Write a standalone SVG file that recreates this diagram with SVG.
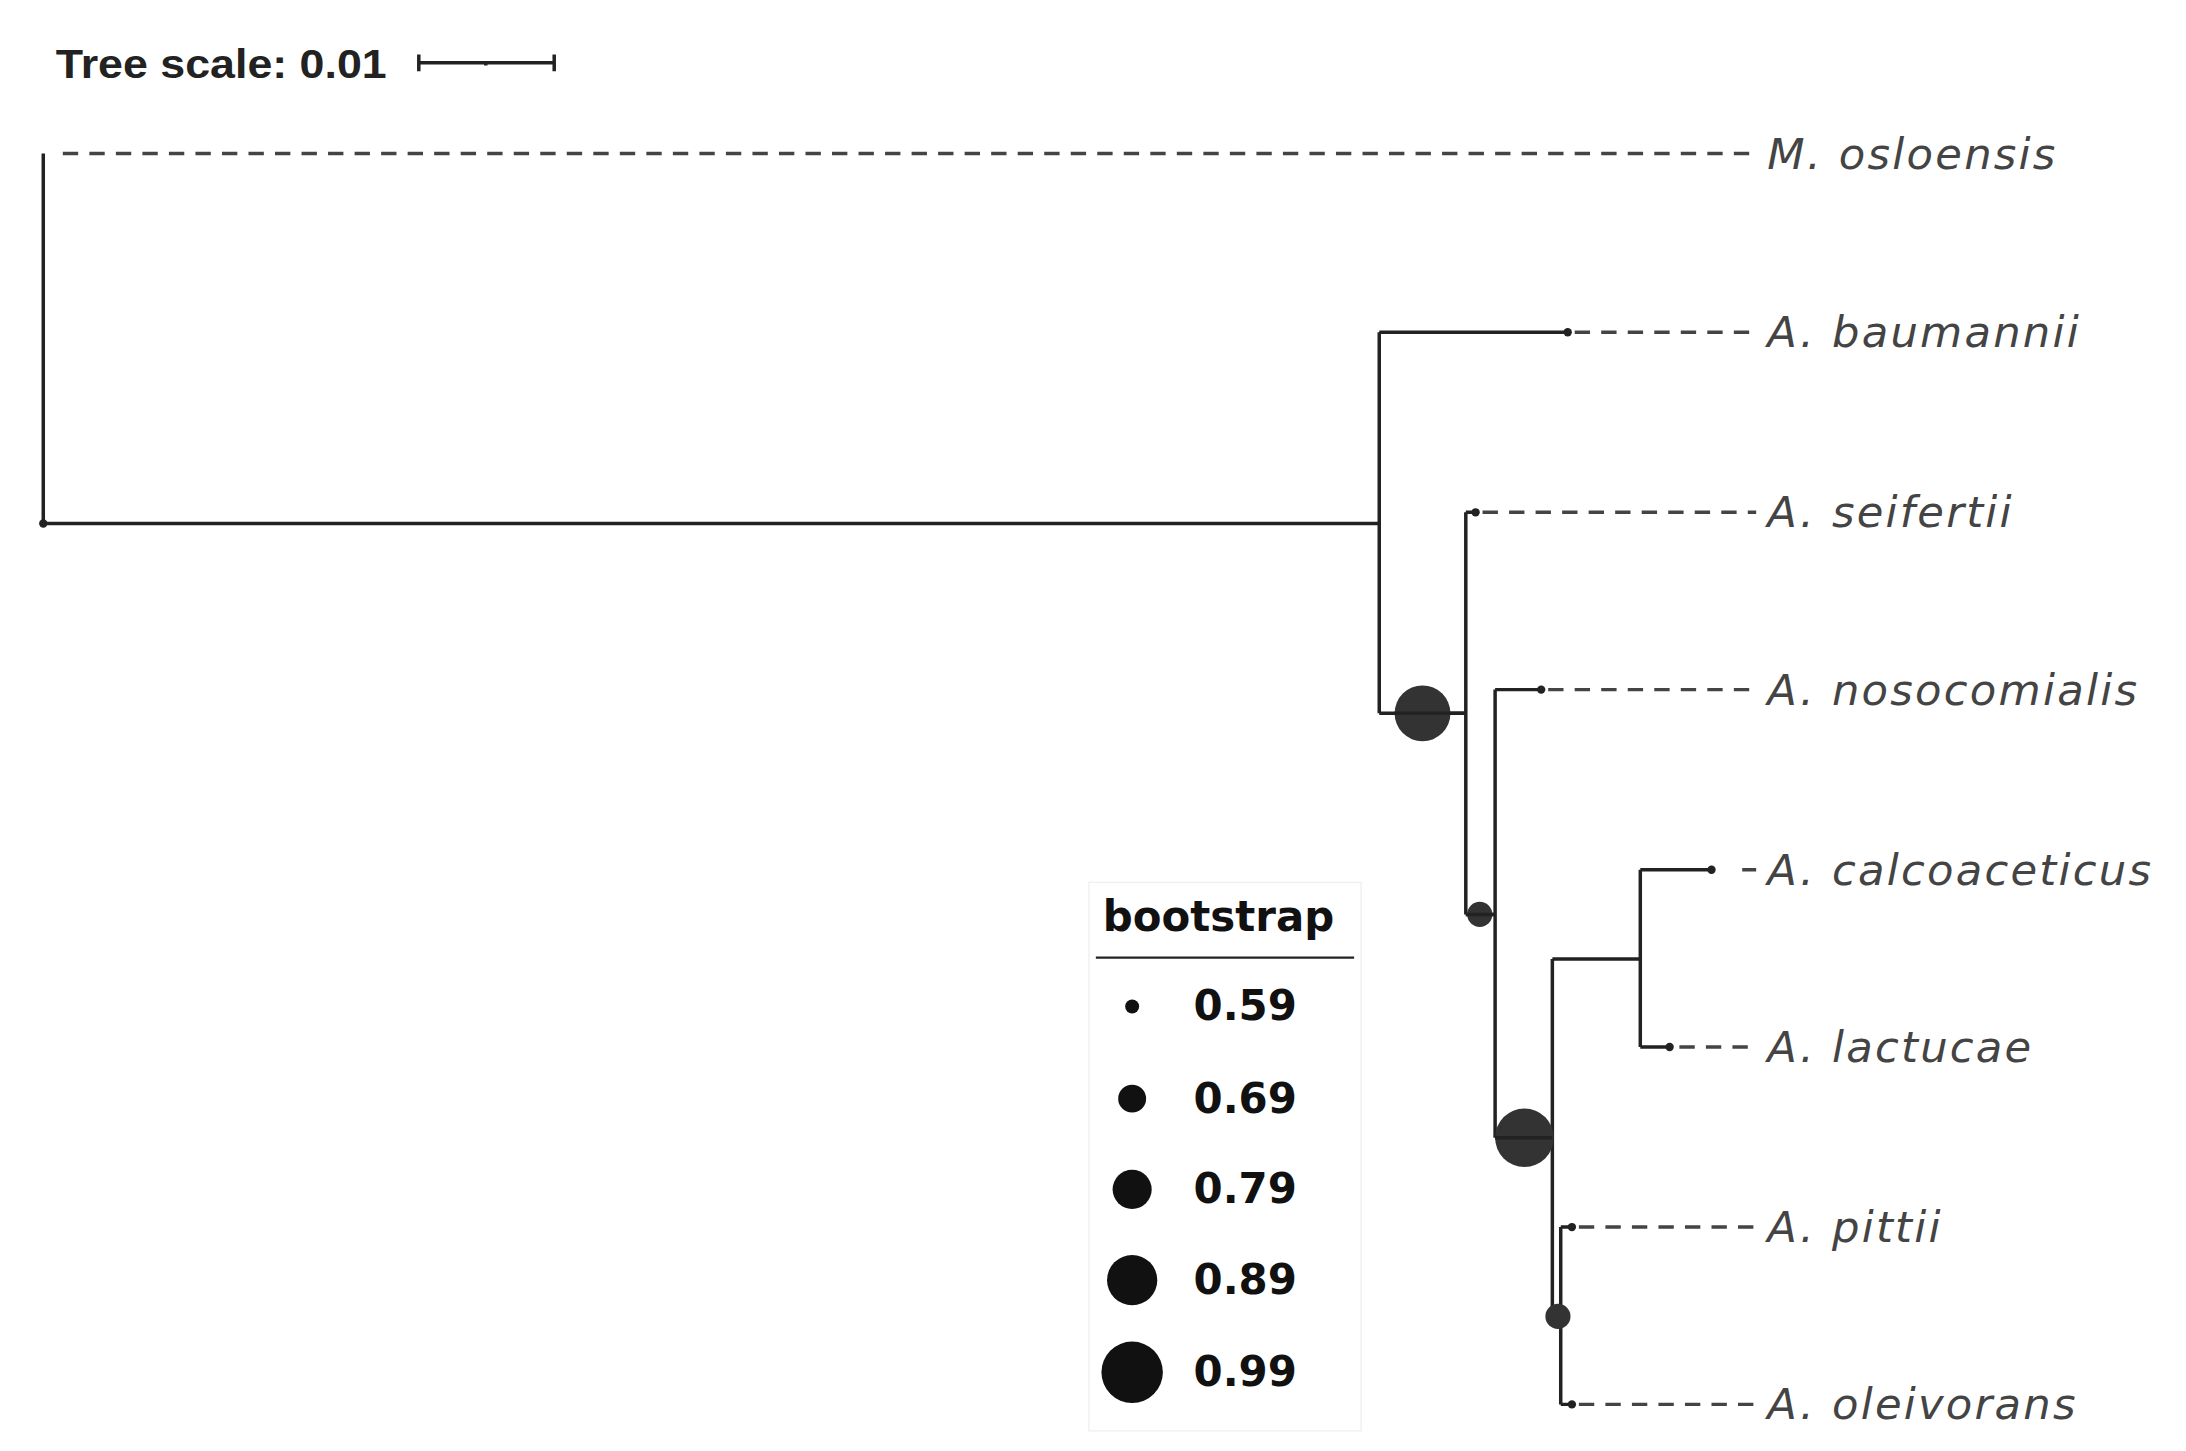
<svg xmlns="http://www.w3.org/2000/svg" width="2186" height="1451" viewBox="0 0 2186 1451">
<style>
.br{stroke:#222;stroke-width:2.5;fill:none}
.ds{stroke:#444;stroke-width:2.5;stroke-dasharray:11,8;fill:none}
.dot{fill:#222}
.bs{fill:#333}
.lab{font-family:"DejaVu Sans",sans-serif;font-style:italic;font-size:31px;letter-spacing:1.6px;fill:#444;dominant-baseline:central}
.lg{font-family:"DejaVu Sans",sans-serif;font-size:30px;font-weight:bold;fill:#111}
</style>
<rect width="2186" height="1451" fill="#fff"/>
<g transform="scale(1.396)">
<g id="scale">
<text x="40" y="56" font-family="Liberation Sans,Arial,sans-serif" font-weight="bold" font-size="29" fill="#222" textLength="237" lengthAdjust="spacingAndGlyphs">Tree scale: 0.01</text>
<path class="br" d="M300,45H397M300,39V51M397,39V51M348,44V47" stroke-width="1.8"/>
</g>
<g id="connectors">
<path class="br" d="M31,110V375H988M988,238V511M988,238H1123M988,511H1050M1050,367V655M1050,367H1057M1050,655H1071M1071,494V815M1071,494H1104M1071,815H1112M1112,687V943M1112,943H1118M1118,879V1006M1118,879H1126M1118,1006H1126M1112,687H1175M1175,623V750M1175,623H1226M1175,750H1196"/>
<path class="ds" d="M45,110H1258M1128,238H1258M1062,367H1258M1109,494H1258M1248,623H1258M1203,750H1258M1131,879H1258M1131,1006H1258"/>
</g>
<g id="bootstrap-nodes">
<circle class="bs" cx="1019" cy="511" r="20"/>
<circle class="bs" cx="1060" cy="655" r="9"/>
<circle class="bs" cx="1092" cy="815" r="21"/>
<circle class="bs" cx="1116" cy="943" r="9"/>
<path class="br" d="M999,511H1050M1050,655H1071M1071,815H1112"/>
</g>
<g id="tips">
<circle class="dot" cx="31" cy="375" r="3"/>
<circle class="dot" cx="1123" cy="238" r="3"/>
<circle class="dot" cx="1057" cy="367" r="3"/>
<circle class="dot" cx="1104" cy="494" r="3"/>
<circle class="dot" cx="1226" cy="623" r="3"/>
<circle class="dot" cx="1196" cy="750" r="3"/>
<circle class="dot" cx="1126" cy="879" r="3"/>
<circle class="dot" cx="1126" cy="1006" r="3"/>
</g>
<g id="n-osloensis"><text class="lab" x="1266" y="110">M. osloensis</text></g>
<g id="n-baumannii"><text class="lab" x="1266" y="238">A. baumannii</text></g>
<g id="n-seifertii"><text class="lab" x="1266" y="367">A. seifertii</text></g>
<g id="n-nosocomialis"><text class="lab" x="1266" y="494">A. nosocomialis</text></g>
<g id="n-calcoaceticus"><text class="lab" x="1266" y="623">A. calcoaceticus</text></g>
<g id="n-lactucae"><text class="lab" x="1266" y="750">A. lactucae</text></g>
<g id="n-pittii"><text class="lab" x="1266" y="879">A. pittii</text></g>
<g id="n-oleivorans"><text class="lab" x="1266" y="1006">A. oleivorans</text></g>
<g id="legend">
<rect x="780" y="632" width="195" height="393" fill="#fff" stroke="#f0f0f0"/>
<text x="790" y="667" font-family="DejaVu Sans,sans-serif" font-weight="bold" font-size="30" fill="#111">bootstrap</text>
<line x1="785" y1="686" x2="970" y2="686" stroke="#222" stroke-width="1.5"/>
<circle cx="811" cy="721" r="5" fill="#111"/><text class="lg" x="855" y="731">0.59</text>
<circle cx="811" cy="787" r="10" fill="#111"/><text class="lg" x="855" y="797">0.69</text>
<circle cx="811" cy="852" r="14" fill="#111"/><text class="lg" x="855" y="862">0.79</text>
<circle cx="811" cy="917" r="18" fill="#111"/><text class="lg" x="855" y="927">0.89</text>
<circle cx="811" cy="983" r="22" fill="#111"/><text class="lg" x="855" y="993">0.99</text>
</g>
</g>
</svg>
